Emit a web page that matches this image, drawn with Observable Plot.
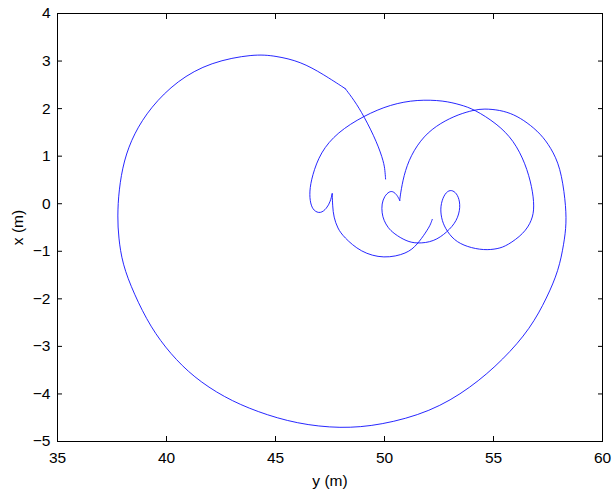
<!DOCTYPE html>
<html>
<head>
<meta charset="utf-8">
<script src="https://cdn.jsdelivr.net/npm/d3@7"></script>
<script src="https://cdn.jsdelivr.net/npm/@observablehq/plot@0.6"></script>
<style>
  html, body { margin: 0; padding: 0; background: #fff; }
</style>
</head>
<body>
<div id="chart"></div>
<script>
// Trajectory split into smooth pieces at its kink and cusps.
// Each piece: horizontal values y (m) and vertical values x (m).
// Piece 1: start of the strand up to the kink
const p1Y = [50.05, 50.02, 49.97, 49.66, 49.05, 48.6, 48.2];
const p1X = [0.52, 0.7, 0.87, 1.29, 1.85, 2.18, 2.42];
// Piece 2: kink, big outer loop, down to the middle cusp
const p2Y = [48.2, 47.2, 46.15, 45.0, 44.0, 42.02, 40.49, 39.27, 38.5, 38.04, 37.81, 37.75,
  37.8, 37.97, 38.5, 39.27, 40.18, 41.25, 42.63, 44.16, 45.99, 47.98, 49.82, 52.11, 53.94,
  55.47, 56.7, 57.46, 57.99, 58.23, 58.35, 58.3, 58.07, 57.63, 57.16, 56.54, 55.93, 55.3,
  54.56, 54.1, 53.4, 52.57, 51.8, 51.19, 50.88, 50.73, 50.7];
const p2X = [2.42, 2.72, 2.99, 3.11, 3.15, 2.98, 2.59, 2.03, 1.47, 0.91, 0.28, -0.28,
  -0.7, -1.26, -1.89, -2.6, -3.16, -3.65, -4.07, -4.38, -4.63, -4.73, -4.66, -4.38, -3.88,
  -3.27, -2.62, -1.97, -1.4, -0.84, -0.42, 0.07, 0.77, 1.18, 1.47, 1.71, 1.88, 1.97,
  2.0, 1.97, 1.88, 1.7, 1.43, 1.01, 0.59, 0.2, 0.07];
// Piece 3: middle cusp, the two small loops, inner arc, left hook up to its cusp
const p3Y = [50.7, 50.58, 50.4, 50.22, 50.0, 49.87, 49.88, 49.97, 50.15, 50.43, 51.0, 51.5,
  52.26, 52.87, 53.33, 53.49, 53.4, 53.2, 52.95, 52.72, 52.56, 52.6, 52.78, 53.18, 53.79,
  54.56, 55.2, 55.63, 56.39, 56.77, 56.88, 56.77, 56.47, 55.93, 55.17, 54.1, 53.49, 52.72,
  51.5, 50.28, 49.05, 47.83, 47.06, 46.68, 46.55, 46.6, 46.75, 47.06, 47.35, 47.52, 47.6];
const p3X = [0.07, 0.18, 0.26, 0.26, 0.16, 0.0, -0.2, -0.35, -0.5, -0.63, -0.79, -0.84,
  -0.8, -0.6, -0.36, -0.07, 0.15, 0.27, 0.29, 0.18, -0.05, -0.3, -0.52, -0.77, -0.91,
  -0.98, -0.95, -0.88, -0.63, -0.35, -0.07, 0.35, 0.84, 1.33, 1.68, 1.99, 2.08, 2.17,
  2.19, 2.09, 1.85, 1.5, 1.08, 0.59, 0.25, 0.0, -0.15, -0.21, -0.1, 0.05, 0.21];
// Piece 4: from the left cusp down around to the end
const p4Y = [47.6, 47.62, 47.67, 47.85, 48.13, 48.9, 49.97, 51.04, 51.5, 51.9, 52.1, 52.19];
const p4X = [0.21, -0.05, -0.28, -0.52, -0.7, -1.02, -1.16, -1.05, -0.86, -0.6, -0.45, -0.33];

const xTicks = [35, 40, 45, 50, 55, 60];
const yTicks = [-5, -4, -3, -2, -1, 0, 1, 2, 3, 4];
const xLabel = "y (m)";
const yLabel = "x (m)";

const pieces = [[p1Y, p1X], [p2Y, p2X], [p3Y, p3X], [p4Y, p4X]];
const data = pieces.flatMap(([ys, xs], k) => ys.map((v, i) => ({y: v, x: xs[i], piece: k})));
const fmt = d3.format("d");

const chart = Plot.plot({
  width: 614,
  height: 494,
  marginLeft: 57,
  marginRight: 12,
  marginTop: 13,
  marginBottom: 53,
  style: {fontFamily: "Liberation Sans, Arial, sans-serif", fontSize: "15.5px", background: "#fff", color: "#000"},
  x: {domain: [35, 60]},
  y: {domain: [-5, 4]},
  marks: [
    Plot.line(data, {x: "y", y: "x", z: "piece", stroke: "#0000ff", strokeWidth: 0.85, curve: "basis"}),
    Plot.frame({stroke: "#000", strokeWidth: 1}),
    Plot.axisX(xTicks, {anchor: "bottom", tickSize: -5, tickPadding: 15, tickFormat: fmt,
      label: xLabel, labelAnchor: "center", labelArrow: "none", labelOffset: 44}),
    Plot.axisX(xTicks, {anchor: "top", tickSize: -5, tickFormat: () => "", label: null}),
    Plot.axisY(yTicks, {anchor: "left", tickSize: -5, tickPadding: 12, tickFormat: fmt,
      label: yLabel, labelAnchor: "center", labelArrow: "none", labelOffset: 46}),
    Plot.axisY(yTicks, {anchor: "right", tickSize: -5, tickFormat: () => "", label: null})
  ]
});
document.getElementById("chart").appendChild(chart);
</script>
</body>
</html>
